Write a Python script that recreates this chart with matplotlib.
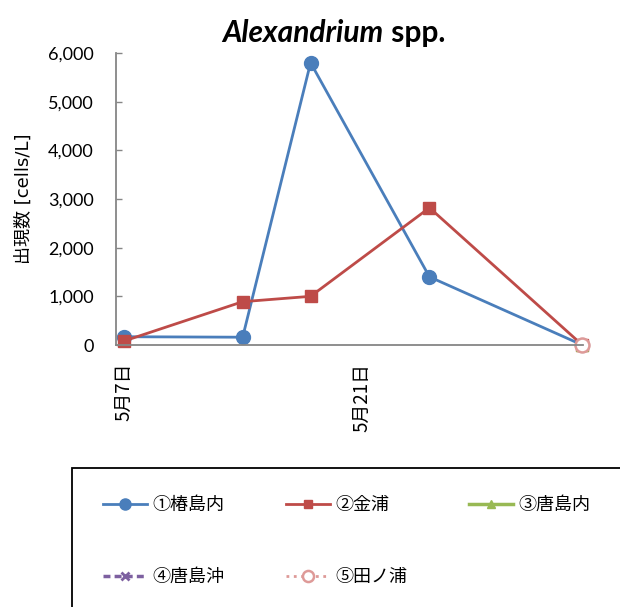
#Alexandrium spp. cell counts at five stations
import numpy as np
import matplotlib
matplotlib.use('Agg')
import matplotlib.pyplot as plt
from matplotlib.patches import Rectangle
from datetime import datetime, timedelta

#data
dates=['2012-05-07','2012-05-14','2012-05-18','2012-05-25','2012-06-03']
station_names=['①椿島内','②金浦','③唐島内','④唐島沖','⑤田ノ浦']
tsubaki=[170,160,5800,1400,0]
kanaura=[80,890,1000,2820,0]
karashima_in=[np.nan,np.nan,np.nan,np.nan,0]
karashima_oki=[np.nan,np.nan,np.nan,np.nan,0]
tanoura=[np.nan,np.nan,np.nan,np.nan,0]
tick_dates=['2012-05-07','2012-05-21']
tick_labels=['5月7日','5月21日']
y_ticks=[0,1000,2000,3000,4000,5000,6000]

plt.rcParams['font.family']=['Lato','Noto Sans CJK JP','DejaVu Sans']
jp=['Noto Sans CJK JP','DejaVu Sans']

x=[datetime.strptime(d,'%Y-%m-%d') for d in dates]
xt=[datetime.strptime(d,'%Y-%m-%d') for d in tick_dates]

fig=plt.figure(figsize=(6.2,6.07),dpi=100)
ax=fig.add_axes([116/620,1-345/607,467/620,292/607])

#one style per station
styles=[
    dict(color='#4A7EBB',marker='o',ms=10,lw=2.0,ls='-'),
    dict(color='#BE4B48',marker='s',ms=8,lw=2.0,ls='-'),
    dict(color='#98B954',marker='^',ms=8,lw=2.5,ls='-'),
    dict(color='#7D60A0',marker='x',ms=7,lw=2.5,ls=(0,(2,1.2)),mew=2),
    dict(color='#DE9A98',marker='o',ms=10,lw=2.0,ls=':',mfc='white',mew=1.8),
]
series=[tsubaki,kanaura,karashima_in,karashima_oki,tanoura]
handles=[]
for vals,name,st in zip(series,station_names,styles):
    h,=ax.plot(x,vals,label=name,clip_on=False,**st)
    handles.append(h)

ax.set_ylim(0,6000)
ax.set_yticks(y_ticks)
ax.set_yticklabels(['{:,}'.format(v) for v in y_ticks],fontsize=13)
ax.set_xlim(x[0]-timedelta(hours=11),x[-1]+timedelta(hours=1))
ax.set_xticks(xt)
ax.set_xticklabels(tick_labels,rotation=90,fontsize=13.5,family=jp)
ax.tick_params(axis='x',length=0,pad=13)
ax.tick_params(axis='y',direction='in',length=4,width=1,color='#868686',pad=16)
for s in ['top','right']:
    ax.spines[s].set_visible(False)
for s in ['left','bottom']:
    ax.spines[s].set_color('#868686')
    ax.spines[s].set_linewidth(1.3)

ax.set_ylabel('出現数 [cells/L]',family=['DejaVu Sans','Noto Sans CJK JP'],fontsize=13)
ax.yaxis.set_label_coords(-0.178,0.5)

#title: italic genus name followed by upright "spp."
t1=fig.text(0.5,1-42/607,'Alexandrium',fontsize=21.5,fontweight='bold',style='italic',ha='left',va='baseline')
t2=fig.text(0.5,1-42/607,' spp.',fontsize=21.5,fontweight='bold',ha='left',va='baseline')
fig.canvas.draw()
r=fig.canvas.get_renderer()
w1=t1.get_window_extent(r).width
w2=t2.get_window_extent(r).width
x0=334-(w1+w2)/2
t1.set_x(x0/620)
t2.set_x((x0+w1)/620)

#legend box
fig.patches.append(Rectangle((72/620,-0.1),1.0,(607-468)/607+0.1,transform=fig.transFigure,
                             fill=False,edgecolor='black',lw=1.3,clip_on=False))
#matplotlib fills legend columns first, so reorder to read row by row
order=[0,3,1,4,2]
fig.legend(handles=[handles[i] for i in order],loc='upper left',bbox_to_anchor=(103/620,1-496/607),ncol=3,
           frameon=False,prop={'family':jp,'size':13},handlelength=2.45,handletextpad=0.3,
           columnspacing=3.4,labelspacing=3.0,borderpad=0,borderaxespad=0,markerscale=0.8)

fig.savefig('out.png',dpi=100)
